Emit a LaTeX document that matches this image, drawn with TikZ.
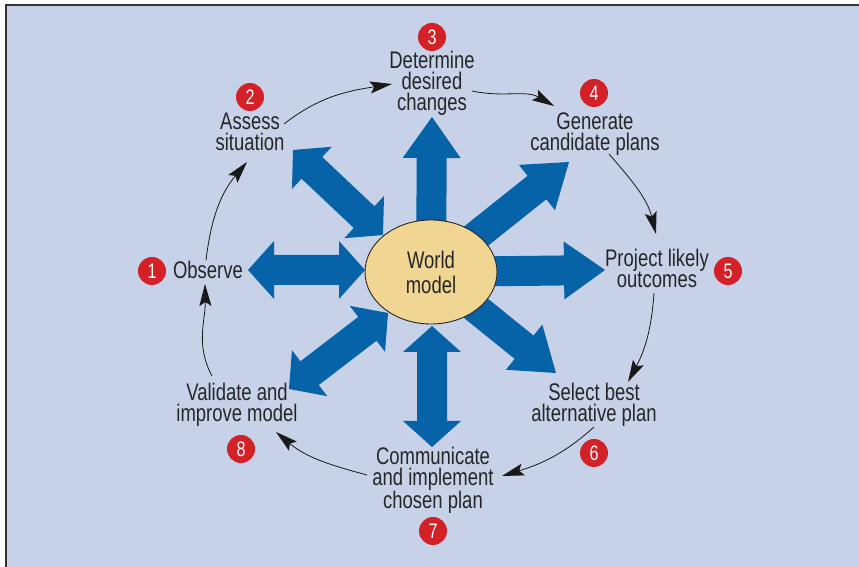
\documentclass[tikz,border=0pt]{standalone}
\usepackage{fontspec}
\setmainfont[FakeStretch=0.77]{Liberation Sans}
\usetikzlibrary{calc,arrows.meta,shapes.geometric}
\definecolor{bgblue}{RGB}{199,209,232}
\definecolor{arrblue}{RGB}{7,99,168}
\definecolor{wmfill}{RGB}{240,214,146}
\definecolor{badgered}{RGB}{212,32,39}
\definecolor{txt}{RGB}{38,38,40}
\newcommand\singlearrow[2]{%
  \coordinate (H) at ($(#2)!41pt!(#1)$);
  \fill[arrblue] ($(#1)!15pt!90:(#2)$) -- ($(H)!15pt!-90:(#1)$) -- ($(H)!29pt!-90:(#1)$) -- (#2)
     -- ($(H)!29pt!90:(#1)$) -- ($(H)!15pt!90:(#1)$) -- ($(#1)!15pt!-90:(#2)$) -- cycle;}
\newcommand\doublearrow[2]{%
  \coordinate (Ha) at ($(#1)!26pt!(#2)$);
  \coordinate (Hb) at ($(#2)!26pt!(#1)$);
  \fill[arrblue] (#1) -- ($(Ha)!29pt!90:(#2)$) -- ($(Ha)!15pt!90:(#2)$) -- ($(Hb)!15pt!-90:(#1)$)
     -- ($(Hb)!29pt!-90:(#1)$) -- (#2) -- ($(Hb)!29pt!90:(#1)$) -- ($(Hb)!15pt!90:(#1)$)
     -- ($(Ha)!15pt!-90:(#2)$) -- ($(Ha)!29pt!-90:(#2)$) -- cycle;}
\tikzset{
  lbl/.style={text=txt, font=\fontsize{24}{21}\selectfont, align=center, inner sep=0pt, anchor=base},
  badge/.style={circle, fill=badgered, text=white, minimum size=28pt, inner sep=0pt,
     font=\fontsize{21}{21}\selectfont},
  cyc/.style={line width=0.8pt, draw=black!90, -{Stealth[length=22pt,width=12pt,inset=4pt]}},
  wmnode/.style={ellipse, draw=black!85, line width=0.9pt, fill=wmfill, minimum width=132pt,
     minimum height=104pt, inner sep=0pt, text=txt, font=\fontsize{24}{25}\selectfont, align=center}
}
\begin{document}
\begin{tikzpicture}[x=1pt,y=1pt]
\useasboundingbox (0,0) rectangle (859,567);
\fill[white] (0,0) rectangle (859,567);
\fill[bgblue] (6,0) rectangle (859,562);
\draw[line width=1.5pt, black!80] (6,0) -- (6,562) -- (859,562);

% centre of world model
\coordinate (wmc) at (431,295);
% tips of blue arrows
\coordinate (tUp) at (432,450);
\coordinate (tRight) at (605,297);
\coordinate (tUR) at (569,405);
\coordinate (tLR) at (556,194);
\coordinate (tULo) at (293,417);
\coordinate (tULi) at (383,332);
\coordinate (tLo) at (248,297);
\coordinate (tLi) at (365,297);
\coordinate (tLLo) at (289,178);
\coordinate (tLLi) at (388,254);
\coordinate (tDi) at (432,241);
\coordinate (tDo) at (432,120);

\singlearrow{wmc}{tUp}
\singlearrow{wmc}{tRight}
\singlearrow{wmc}{tUR}
\singlearrow{wmc}{tLR}
\doublearrow{tULo}{tULi}
\doublearrow{tLo}{tLi}
\doublearrow{tLLo}{tLLi}
\doublearrow{tDi}{tDo}

\node[wmnode] (wm) at (wmc) {World\\model};

% labels (anchor = baseline of the last line)
\node[lbl] (observe) at (208,288) {Observe};
\node[lbl] (assess) at (250,416.5) {Assess\\situation};
\node[lbl] (determine) at (432,456) {Determine\\desired\\changes};
\node[lbl] (generate) at (595,416.5) {Generate\\candidate plans};
\node[lbl] (project) at (657,279.5) {Project likely\\outcomes};
\node[lbl] (select) at (594,145) {Select best\\alternative plan};
\node[lbl] (communicate) at (433,58) {Communicate\\and implement\\chosen plan};
\node[lbl] (validate) at (237,145) {Validate and\\improve model};

% badges
\node[badge] (b1) at (152,296) {1};
\node[badge] (b2) at (250,470) {2};
\node[badge] (b3) at (432,530) {3};
\node[badge] (b4) at (594,474) {4};
\node[badge] (b5) at (728,296) {5};
\node[badge] (b6) at (594,114) {6};
\node[badge] (b7) at (433,36) {7};
\node[badge] (b8) at (241,118) {8};

% cycle connector ends
\coordinate (c1s) at (206,307); \coordinate (c1e) at (247,405);
\coordinate (c2s) at (284,443); \coordinate (c2e) at (392,483);
\coordinate (c3s) at (472,476); \coordinate (c3e) at (554,461);
\coordinate (c4s) at (609,413); \coordinate (c4e) at (656,333);
\coordinate (c5s) at (654,274); \coordinate (c5e) at (628,185);
\coordinate (c6s) at (594,140); \coordinate (c6e) at (502,91);
\coordinate (c7s) at (367,92);  \coordinate (c7e) at (276,135);
\coordinate (c8s) at (212,191); \coordinate (c8e) at (205,283);

\draw[cyc] (c1s) to[out=83,in=230] (c1e);
\draw[cyc] (c2s) to[out=38,in=189] (c2e);
\draw[cyc] (c3s) to[out=-12,in=150] (c3e);
\draw[cyc] (c4s) to[out=-49,in=104] (c4e);
\draw[cyc] (c5s) to[out=-94,in=62] (c5e);
\draw[cyc] (c6s) to[out=-138,in=17] (c6e);
\draw[cyc] (c7s) to[out=165,in=-40] (c7e);
\draw[cyc] (c8s) to[out=118,in=-89] (c8e);
\end{tikzpicture}
\end{document}
